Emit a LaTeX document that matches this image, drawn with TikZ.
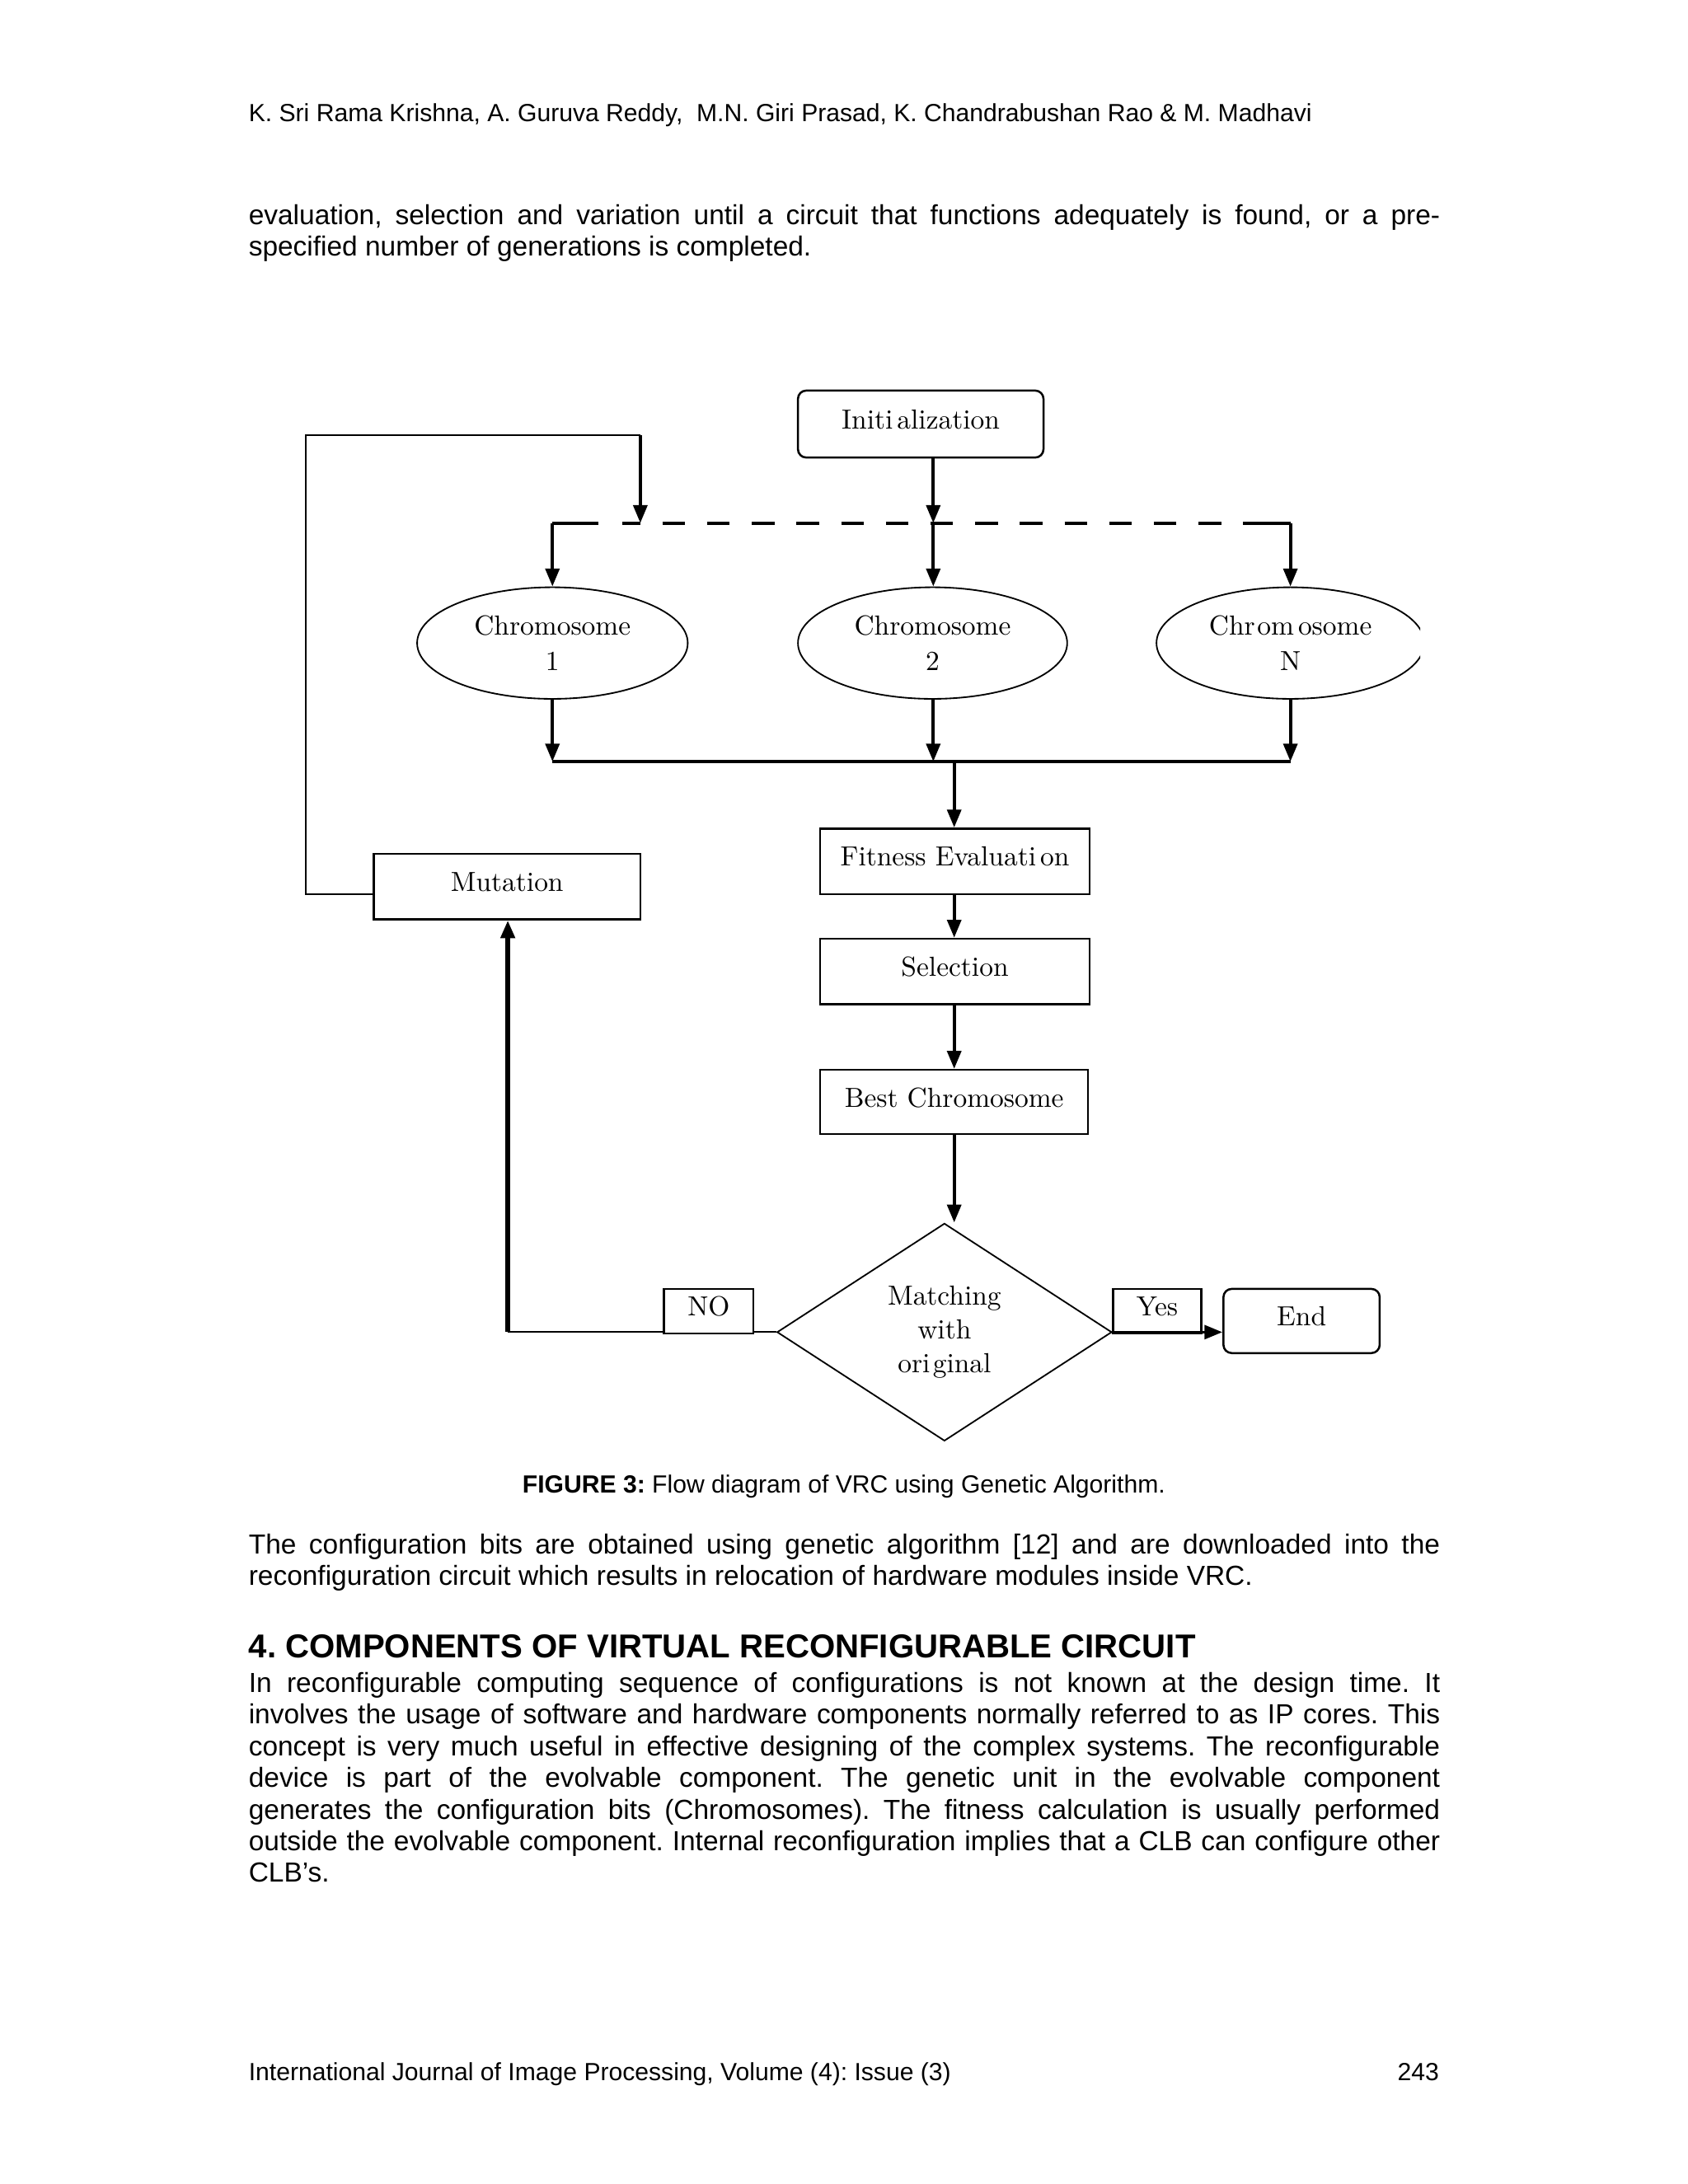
\documentclass[tikz,border=0pt]{standalone}
\usepackage{fontspec}
\newfontfamily\arial{Liberation Sans}
\usetikzlibrary{arrows.meta,shapes.geometric}
\newcommand\uu{0.50585pt}
\newcommand\jline[1]{\makebox[432pt][s]{#1}\par}
\frenchspacing
\begin{document}
\begin{tikzpicture}[x=0.50585pt, y=-0.50585pt,
  pagetext/.style={inner sep=0pt, font=\arial\fontsize{10}{11.5}\selectfont\frenchspacing},
  boxnode/.style={draw, line width=0.75pt, inner sep=0pt, text depth=3.5pt, font=\fontsize{10}{12}\selectfont},
  rboxnode/.style={boxnode, rounded corners=3pt},
  ellnode/.style={ellipse, draw, line width=0.55pt, inner sep=0pt, align=center, font=\fontsize{10}{13}\selectfont},
  arr/.style={line width=1.25pt, -{Triangle[length=6.5pt,width=5pt]}},
  plain/.style={line width=1.25pt},
  thinline/.style={line width=0.65pt}]
\useasboundingbox (0pt,0pt) rectangle (612pt,-792pt);
\fill[white] (0pt,0pt) rectangle (612pt,-792pt);

% ---------- page text ----------
\node[anchor=base west, inner sep=0pt, font=\arial\fontsize{9}{11}\selectfont\frenchspacing] (hdr) at (90pt,-44pt)
  {K. Sri Rama Krishna, A. Guruva Reddy,\ \ M.N. Giri Prasad, K. Chandrabushan Rao \& M. Madhavi};

\node[anchor=base west, pagetext] (p1) at (90pt,-81.4pt) {\parbox[t]{432pt}{\parindent=0pt\parskip=0pt
  \jline{evaluation, selection and variation until a circuit that functions adequately is found, or a pre-}
  specified number of generations is completed.\par}};

\node[anchor=base, inner sep=0pt, font=\arial\fontsize{9}{11}\selectfont\frenchspacing] (cap) at (306pt,-541.3pt)
  {\textbf{FIGURE 3:} Flow diagram of VRC using Genetic Algorithm.};

\node[anchor=base west, pagetext] (p2) at (90pt,-563.5pt) {\parbox[t]{432pt}{\parindent=0pt\parskip=0pt
  \jline{The configuration bits are obtained using genetic algorithm [12] and are downloaded into the}
  reconfiguration circuit which results in relocation of hardware modules inside VRC.\par}};

\node[anchor=base west, inner sep=0pt, font=\arial\bfseries\fontsize{12}{14}\selectfont] (h4) at (90pt,-601.2pt)
  {4. COMPONENTS OF VIRTUAL RECONFIGURABLE CIRCUIT};

\node[anchor=base west, pagetext] (p3) at (90pt,-613.6pt) {\parbox[t]{432pt}{\parindent=0pt\parskip=0pt
  \jline{In reconfigurable computing sequence of configurations is not known at the design time. It}
  \jline{involves the usage of software and hardware components normally referred to as IP cores. This}
  \jline{concept is very much useful in effective designing of the complex systems. The reconfigurable}
  \jline{device is part of the evolvable component. The genetic unit in the evolvable component}
  \jline{generates the configuration bits (Chromosomes). The fitness calculation is usually performed}
  \jline{outside the evolvable component. Internal reconfiguration implies that a CLB can configure other}
  CLB’s.\par}};

\node[anchor=base west, inner sep=0pt, font=\arial\fontsize{9}{11}\selectfont\frenchspacing] (ftl) at (90pt,-754.5pt)
  {International Journal of Image Processing, Volume (4): Issue (3)};
\node[anchor=base east, inner sep=0pt, font=\arial\fontsize{9}{11}\selectfont] (ftr) at (522pt,-754.5pt) {243};

% ---------- diagram nodes ----------
\node[rboxnode, minimum width=176*\uu, minimum height=48*\uu] (init) at (660,304) {Initi\kern1.5pt alization};

\node[ellnode, minimum width=194*\uu, minimum height=80*\uu] (c1) at (396,461) {Chromosome\\1};
\node[ellnode, minimum width=193*\uu, minimum height=80*\uu] (c2) at (668.5,461) {Chromosome\\2};
\node[ellnode, draw=none, minimum width=192*\uu, minimum height=80*\uu] (cN) at (925,461) {Chr\kern0.8pt om\kern1.5pt osome\\N};
\begin{scope}
  \clip (800,400) rectangle (1018,525);
  \draw[line width=0.55pt] (cN.center) ellipse [x radius=48.56pt, y radius=20.23pt];
\end{scope}

\node[boxnode, minimum width=193*\uu, minimum height=47*\uu] (fit) at (684.5,617.5) {Fitness Evaluati\kern1.5pt on};
\node[boxnode, minimum width=193*\uu, minimum height=47*\uu] (sel) at (684.5,696.5) {Selection};
\node[boxnode, minimum width=192*\uu, minimum height=46*\uu] (best) at (684,790) {Best Chromosome};
\node[boxnode, minimum width=191*\uu, minimum height=47*\uu] (mut) at (363.5,635.5) {Mutation};

\node[diamond, draw, line width=0.55pt, inner sep=0pt, minimum width=240*\uu, minimum height=156*\uu,
      align=center, font=\fontsize{10}{12.3}\selectfont] (dm) at (677,955) {Matching\\with\\ori\kern1pt ginal};

\node[boxnode, minimum width=64*\uu, minimum height=32*\uu] (no) at (508,940) {NO};
\node[boxnode, minimum width=63*\uu, minimum height=32*\uu] (yes) at (829.5,940) {Yes};
\node[rboxnode, minimum width=112*\uu, minimum height=46*\uu] (end) at (933,947) {End};

% ---------- coordinates ----------
\coordinate (d0) at (459,375);
\coordinate (d2) at (669,375);
\coordinate (dL) at (396,375);
\coordinate (dR) at (925,375);
\coordinate (dLs) at (429,375);
\coordinate (dM) at (446,375);
\coordinate (dRs) at (896,375);
\coordinate (lp1) at (219,641);
\coordinate (lp2) at (219,312);
\coordinate (lp3) at (459,312);
\coordinate (b1) at (396,546);
\coordinate (b2) at (669,546);
\coordinate (bN) at (925,546);
\coordinate (bF) at (684,546);
\coordinate (nc) at (364,955);

% ---------- connectors ----------
\draw[arr] (init.south -| d2) -- (d2);
\draw[arr] (d2) -- (d2 |- c2.north);

\draw[thinline] (mut.west |- lp1) -- (lp1) -- (lp2) -- (lp3);
\draw[arr] (lp3) -- (d0);

\draw[plain] (dLs) -- (dL);
\draw[arr] (dL) -- (c1.north);
\draw[plain] (dRs) -- (dR);
\draw[arr] (dR) -- (cN.north);
\draw[plain, dash pattern=on 8.2pt off 8pt, dash phase=1.6pt] (dM) -- (dRs);

\draw[arr] (c1.south) -- (b1);
\draw[arr] (b2 |- c2.south) -- (b2);
\draw[arr] (cN.south) -- (bN);
\draw[plain] (b1) -- (bN);
\draw[arr] (bF) -- (bF |- fit.north);

\draw[arr] (bF |- fit.south) -- (bF |- sel.north);
\draw[arr] (bF |- sel.south) -- (bF |- best.north);
\draw[arr] (bF |- best.south) -- (bF |- dm.north);

\draw[thinline] (dm.west) -- (dm.west -| no.east);
\draw[thinline] (dm.west -| no.west) -- (nc);
\draw[line width=1.8pt, -{Triangle[length=6.5pt,width=5pt]}] (nc) -- (nc |- mut.south);

\draw[line width=1.1pt, -{Triangle[length=6.5pt,width=5pt]}] (dm.east) -- (dm.east -| end.west);
\end{tikzpicture}
\end{document}
